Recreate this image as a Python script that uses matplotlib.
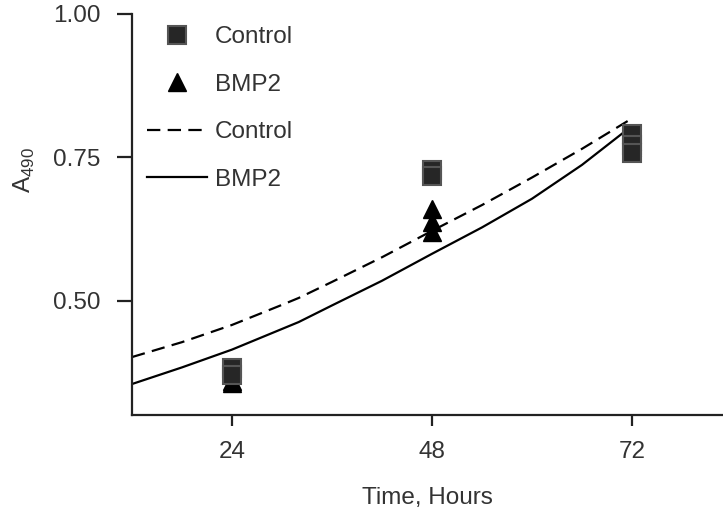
import matplotlib
matplotlib.use('Agg')
import matplotlib.pyplot as plt

plt.rcParams['font.family'] = ['Liberation Sans', 'DejaVu Sans']
plt.rcParams['mathtext.fontset'] = 'custom'
plt.rcParams['mathtext.rm'] = 'Liberation Sans'

# measured replicates
ctrl_t = [24, 24, 48, 48, 72, 72, 72]
ctrl_a = [0.383, 0.371, 0.728, 0.718, 0.790, 0.772, 0.757]
bmp_t = [24, 24, 48, 48, 48, 72, 72]
bmp_a = [0.360, 0.356, 0.660, 0.637, 0.620, 0.778, 0.768]

# fitted curves
fit_t = [12, 18, 24, 30, 32, 36, 42, 48, 54, 60, 66, 72]
fit_ctrl = [0.402, 0.428, 0.458, 0.493, 0.505, 0.533, 0.576, 0.622, 0.667, 0.715, 0.765, 0.818]
fit_bmp = [0.355, 0.384, 0.415, 0.451, 0.463, 0.492, 0.535, 0.582, 0.628, 0.678, 0.737, 0.805]

txt = '#333333'
fs = 17.5

fig = plt.figure(figsize=(7.23, 5.12), dpi=100)
ax = fig.add_axes([132 / 723, 97 / 512, 591 / 723, 401 / 512])

ax.plot(fit_t, fit_ctrl, color='black', lw=1.6, dashes=(6, 3.3), label='Control')
ax.plot(fit_t, fit_bmp, color='black', lw=1.6, label='BMP2')
tri = ax.plot(bmp_t, bmp_a, '^', ms=13, color='black', mec='black', mew=1, label='BMP2', zorder=3)[0]
sq = ax.plot(ctrl_t, ctrl_a, 's', ms=13.5, mfc='#262626', mec='#555555', mew=1.5, label='Control', zorder=4)[0]

lines = ax.get_lines()
leg = ax.legend([sq, tri, lines[0], lines[1]], ['Control', 'BMP2', 'Control', 'BMP2'],
                loc='upper left', bbox_to_anchor=(147 / 723, 1 - 26 / 512),
                bbox_transform=fig.transFigure, frameon=False, fontsize=fs,
                handlelength=2.45, handletextpad=0.35, labelspacing=1.05,
                borderpad=0, borderaxespad=0, numpoints=1)
for t in leg.get_texts():
    t.set_color(txt)

ax.set_xlim(12, 82.92)
ax.set_ylim(0.301, 1.0)
ax.set_xticks([24, 48, 72])
ax.set_yticks([0.50, 0.75, 1.00])
ax.set_yticklabels(['0.50', '0.75', '1.00'])

for s in ['top', 'right']:
    ax.spines[s].set_visible(False)
for s in ['left', 'bottom']:
    ax.spines[s].set_linewidth(1.6)
    ax.spines[s].set_color('#222222')

ax.tick_params(axis='y', direction='out', length=10.5, width=1.6, pad=12,
               labelsize=fs, labelcolor=txt, color='#222222')
ax.tick_params(axis='x', direction='out', length=8, width=1.6, pad=11,
               labelsize=fs, labelcolor=txt, color='#222222')

ax.set_xlabel('Time, Hours', fontsize=fs, color=txt, labelpad=17)
fig.text(24 / 723, 1 - 170 / 512, r'A$_{\mathregular{490}}$', rotation=90,
         fontsize=fs, color=txt, ha='center', va='center')

fig.savefig('out.png', dpi=100)
